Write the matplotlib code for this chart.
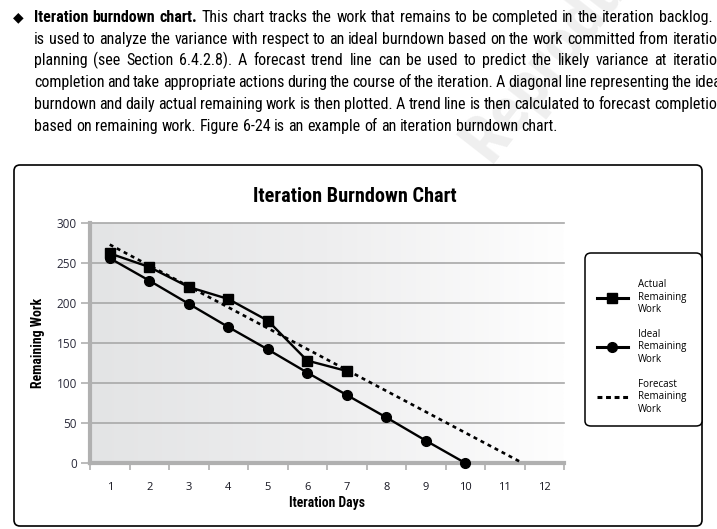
import numpy as np
import matplotlib
matplotlib.use("Agg")
import matplotlib.pyplot as plt
from matplotlib import font_manager as fm
from matplotlib.colors import LinearSegmentedColormap
from matplotlib.patches import FancyBboxPatch
from matplotlib.lines import Line2D

# ─────────────────────────────────────────────────────────────
# Chart data
# ─────────────────────────────────────────────────────────────
day_labels = ["1", "2", "3", "4", "5", "6", "7", "8", "9", "10", "11", "12"]
actual_days = [1, 2, 3, 4, 5, 6, 7]
actual_work = [262, 245, 220, 205, 178, 128, 115]
ideal_days = [1, 2, 3, 4, 5, 6, 7, 8, 9, 10]
ideal_work = [256, 228, 199, 170, 142, 113, 85, 57, 28, 0]
forecast_days = [1, 11.45]
forecast_work = [273, 0]
y_ticks = [0, 50, 100, 150, 200, 250, 300]

paragraph = [
    [("Iteration burndown chart.", "bold"),
     ("This chart tracks the work that remains to be completed in the iteration backlog. It", "normal")],
    [("is used to analyze the variance with respect to an ideal burndown based on the work committed from iteration", "normal")],
    [("planning (see Section 6.4.2.8). A forecast trend line can be used to predict the likely variance at iteration", "normal")],
    [("completion and take appropriate actions during the course of the iteration. A diagonal line representing the ideal", "normal")],
    [("burndown and daily actual remaining work is then plotted. A trend line is then calculated to forecast completion", "normal")],
    [("based on remaining work. Figure 6-24 is an example of an iteration burndown chart.", "normal")],
]

W, H, DPI = 717, 529, 100
TFONT = ["Open Sans", "DejaVu Sans"]
GRAY = "#a8a8a8"


# ─────────────────────────────────────────────────────────────
# Pick a narrow face if one is installed
# ─────────────────────────────────────────────────────────────
def narrow_props():
    for fam in ["Liberation Sans Narrow", "Roboto Condensed", "Open Sans Condensed",
                "Noto Sans Condensed", "DejaVu Sans Condensed"]:
        try:
            fm.findfont(fm.FontProperties(family=fam), fallback_to_default=False)
            return {"family": [fam, "DejaVu Sans"]}
        except ValueError:
            pass
    for fam in ["Noto Sans", "Open Sans", "Roboto", "DejaVu Sans", "Liberation Sans"]:
        p = fm.findfont(fm.FontProperties(family=fam, stretch="condensed"))
        if "ondensed" in p or "arrow" in p:
            return {"family": [fam, "DejaVu Sans"], "stretch": "condensed"}
    return {"family": ["Liberation Sans", "DejaVu Sans"]}


NARROW = narrow_props()

fig = plt.figure(figsize=(W / DPI, H / DPI), dpi=DPI)
renderer = fig.canvas.get_renderer()

# pixel-space overlay for page text and boxes
page = fig.add_axes([0, 0, 1, 1], zorder=0)
page.set_xlim(0, W)
page.set_ylim(H, 0)
page.axis("off")

# faint watermark
page.text(490, 164, "Reproduction", rotation=52, rotation_mode="anchor",
          fontsize=48, color="#efefef", fontweight="bold",
          ha="left", va="baseline", zorder=0, **NARROW)


# ─────────────────────────────────────────────────────────────
# Justified paragraph
# ─────────────────────────────────────────────────────────────
def make_words(line):
    words = []
    for chunk, weight in line:
        words += [(w, weight) for w in chunk.split(" ")]
    return words


def text_width(s, size, weight="normal"):
    t = page.text(0, 0, s, fontsize=size, fontweight=weight, **NARROW)
    w = t.get_window_extent(renderer).width
    t.remove()
    return w


x0, x1 = 34, 725
base = 10.0
space0 = text_width("a a", base) - text_width("aa", base)
# size that makes the last (ragged) line as wide as in the reference
psize = base * 552.0 / text_width(" ".join(c for c, _ in paragraph[-1]), base)
# but never so large that a justified line would need squeezed spaces
for line in paragraph[:-1]:
    words = make_words(line)
    need = sum(text_width(w, base, wt) for w, wt in words) + 0.75 * space0 * (len(words) - 1)
    psize = min(psize, base * (x1 - x0) / need)

baselines = [22, 44, 65, 87, 109, 131]
space = text_width("a a", psize) - text_width("aa", psize)
for i, line in enumerate(paragraph):
    words = make_words(line)
    texts = [page.text(0, baselines[i], w, fontsize=psize, fontweight=wt,
                       va="baseline", ha="left", zorder=2, **NARROW)
             for w, wt in words]
    widths = [t.get_window_extent(renderer).width for t in texts]
    if i < len(paragraph) - 1:
        gap = (x1 - x0 - sum(widths)) / (len(words) - 1)
    else:
        gap = space
    x = x0
    for t, w in zip(texts, widths):
        t.set_x(x)
        x += w + gap

page.text(18, baselines[0] - 5, "\u25C6", fontsize=10,
          family=["DejaVu Sans"], va="center", ha="center", zorder=2)

# ─────────────────────────────────────────────────────────────
# Outer rounded frame and title
# ─────────────────────────────────────────────────────────────
page.add_patch(FancyBboxPatch((14, 165), 688, 361,
                              boxstyle="round,pad=0,rounding_size=6",
                              fc="white", ec="black", lw=1.2, zorder=1))
page.text(355, 196, "Iteration Burndown Chart", fontsize=14.6,
          fontweight="bold", ha="center", va="center", zorder=2, **NARROW)

# ─────────────────────────────────────────────────────────────
# Plot area
# ─────────────────────────────────────────────────────────────
left, right, top, bottom = 90, 564, 223, 463
ax = fig.add_axes([left / W, 1 - bottom / H, (right - left) / W, (bottom - top) / H],
                  zorder=3)
ax.set_xlim(0.5, 12.5)
ax.set_ylim(0, 300)
ax.patch.set_alpha(0)

bg = LinearSegmentedColormap.from_list("bg", ["#e3e4e5", "#eeeeef", "#fefefe"])
ax.imshow(np.linspace(0, 1, 256)[None, :], cmap=bg, aspect="auto",
          extent=(0.5, 12.5, 0, 300), zorder=0)

for v in y_ticks[1:]:
    ax.axhline(v, color=GRAY, lw=1.2, zorder=1, clip_on=False)

ax.plot(forecast_days, forecast_work, color="black", lw=1.9,
        linestyle=(0, (1.5, 1.5)), zorder=3, clip_on=False)
ax.plot(ideal_days, ideal_work, color="black", lw=1.7, marker="o",
        markersize=7, zorder=4, clip_on=False)
ax.plot(actual_days, actual_work, color="black", lw=1.7, marker="s",
        markersize=7.5, zorder=5, clip_on=False)

for s in ["top", "right"]:
    ax.spines[s].set_visible(False)
for s in ["left", "bottom"]:
    ax.spines[s].set_color("#b0b0b0")
    ax.spines[s].set_linewidth(3)
    ax.spines[s].set_zorder(2)

ax.set_yticks(y_ticks)
ax.set_yticklabels([str(v) for v in y_ticks], family=TFONT, fontsize=8.5,
                   color="#2a2a3a")
ax.tick_params(axis="y", length=6.5, width=1.1, color=GRAY, pad=3)

ax.set_xticks(range(1, 13))
ax.set_xticklabels(day_labels, family=TFONT, fontsize=8, color="#151520")
ax.set_xticks(np.arange(0.5, 13, 1), minor=True)
ax.tick_params(axis="x", which="major", length=0, pad=14)
ax.tick_params(axis="x", which="minor", length=5, width=1.1, color=GRAY)

ax.set_ylabel("Remaining Work", fontsize=9.9, fontweight="bold", **NARROW)
ax.set_xlabel("Iteration Days", fontsize=9.8, fontweight="bold", **NARROW)
ax.yaxis.set_label_coords(-(90 - 38) / (right - left), 0.5)
ax.xaxis.set_label_coords(0.5, -(503 - 463) / (bottom - top))
ax.xaxis.label.set_va("center")
ax.yaxis.label.set_va("center")

# ─────────────────────────────────────────────────────────────
# Legend
# ─────────────────────────────────────────────────────────────
handles = [
    Line2D([], [], color="black", lw=2.2, marker="s", markersize=7),
    Line2D([], [], color="black", lw=2.2, marker="o", markersize=7),
    Line2D([], [], color="black", lw=2.2, linestyle=(0, (1.6, 1.2))),
]
labels = ["Actual\nRemaining\nWork", "Ideal\nRemaining\nWork",
          "Forecast\nRemaining\nWork"]
leg = ax.legend(handles, labels, loc="upper left",
                bbox_to_anchor=(585 / W, 1 - 258 / H, 117 / W, 0.01),
                bbox_transform=fig.transFigure, mode="expand",
                prop={"family": TFONT, "size": 7}, handlelength=3.2,
                handletextpad=1.05, borderpad=1.2, labelspacing=1.4,
                borderaxespad=0, frameon=True, fancybox=True,
                title=" ", title_fontsize=1)
frame = leg.get_frame()
frame.set_edgecolor("black")
frame.set_linewidth(1.1)
frame.set_alpha(1)
frame.set_boxstyle("round,pad=0,rounding_size=0.6")

fig.savefig("out.png", dpi=DPI)
